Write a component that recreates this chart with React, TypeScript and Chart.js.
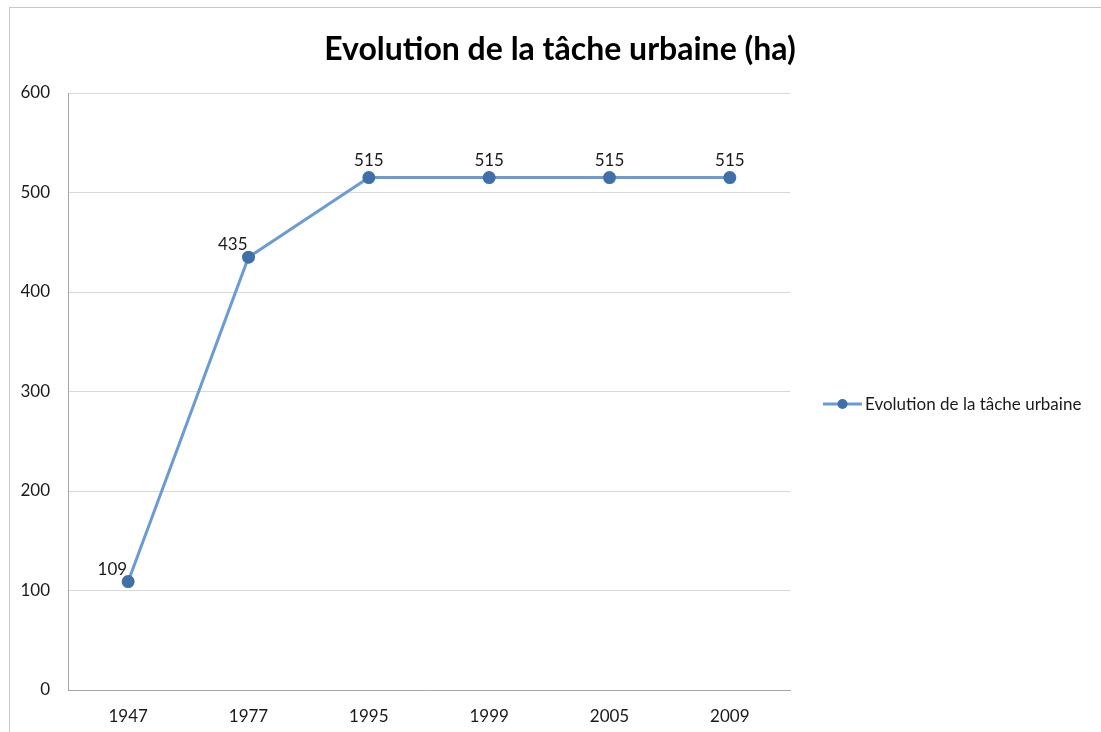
import React, { useEffect, useRef } from "react";
import { Chart, registerables } from "chart.js";

Chart.register(...registerables);

const TITLE = "Evolution de la tâche urbaine (ha)";
const SERIES_NAME = "Evolution de la tâche urbaine";
const years = ["1947", "1977", "1995", "1999", "2005", "2009"];
const values = [109, 435, 515, 515, 515, 515];
const yTicks = [0, 100, 200, 300, 400, 500, 600];

const FONT = "Lato, 'Open Sans', sans-serif";
const LINE_COLOR = "#6a9bd2";
const POINT_COLOR = "#3f70aa";

const overlayPlugin = {
  id: "overlay",
  afterDatasetsDraw(chart: any) {
    const ctx = chart.ctx;
    const meta = chart.getDatasetMeta(0);
    const ds = chart.data.datasets[0].data as number[];
    ctx.save();
    // data labels
    ctx.fillStyle = "#1a1a1a";
    ctx.font = `17px ${FONT}`;
    ctx.textBaseline = "alphabetic";
    meta.data.forEach((pt: any, i: number) => {
      const v = ds[i];
      const next = ds[i + 1];
      if (next !== undefined && next > v) {
        ctx.textAlign = "right";
        ctx.fillText(String(v), pt.x - 1, pt.y - 7);
      } else {
        ctx.textAlign = "center";
        ctx.fillText(String(v), pt.x, pt.y - 12);
      }
    });
    // title
    ctx.font = `bold 32px ${FONT}`;
    ctx.textAlign = "center";
    ctx.textBaseline = "middle";
    ctx.fillStyle = "#000";
    ctx.fillText(TITLE, 560, 50);
    // legend
    const ly = 404;
    ctx.strokeStyle = LINE_COLOR;
    ctx.lineWidth = 3;
    ctx.beginPath();
    ctx.moveTo(823, ly);
    ctx.lineTo(862, ly);
    ctx.stroke();
    ctx.fillStyle = POINT_COLOR;
    ctx.beginPath();
    ctx.arc(842.5, ly, 5, 0, Math.PI * 2);
    ctx.fill();
    ctx.fillStyle = "#1a1a1a";
    ctx.font = `17px ${FONT}`;
    ctx.textAlign = "left";
    ctx.textBaseline = "middle";
    ctx.fillText(SERIES_NAME, 865, ly + 1);
    ctx.restore();
  },
};

export default function App() {
  const ref = useRef<HTMLCanvasElement>(null);
  useEffect(() => {
    document.body.style.margin = "0";
    const chart = new Chart(ref.current!, {
      type: "line",
      data: {
        labels: years,
        datasets: [
          {
            label: SERIES_NAME,
            data: values,
            borderColor: LINE_COLOR,
            backgroundColor: POINT_COLOR,
            pointBackgroundColor: POINT_COLOR,
            pointBorderColor: POINT_COLOR,
            borderWidth: 3,
            pointRadius: 5,
            tension: 0,
          },
        ],
      },
      options: {
        responsive: false,
        animation: false,
        layout: { padding: { left: 0, top: 93, right: 311, bottom: 0 } },
        plugins: {
          legend: { display: false },
          title: { display: false },
          tooltip: { enabled: false },
        },
        scales: {
          x: {
            offset: true,
            grid: { display: false, drawTicks: false },
            border: { color: "#a6a6a6", width: 1 },
            ticks: { color: "#1a1a1a", font: { family: FONT, size: 17 }, padding: 16 },
            afterFit: (s: any) => {
              s.height = 42;
            },
          },
          y: {
            min: 0,
            max: 600,
            afterBuildTicks: (s: any) => {
              s.ticks = yTicks.map((v) => ({ value: v }));
            },
            grid: { color: "#d9d9d9", drawTicks: false },
            border: { color: "#a6a6a6", width: 1 },
            ticks: { color: "#1a1a1a", font: { family: FONT, size: 17 }, padding: 18 },
            afterFit: (s: any) => {
              s.width = 68;
            },
          },
        },
      },
      plugins: [overlayPlugin],
    });
    return () => chart.destroy();
  }, []);
  return (
    <div style={{ position: "relative", width: 1101, height: 732, overflow: "hidden" }}>
      <div
        style={{
          position: "absolute",
          left: 9,
          top: 7,
          width: 1200,
          height: 800,
          borderLeft: "1px solid #c8c8c8",
          borderTop: "1px solid #c8c8c8",
          boxSizing: "border-box",
        }}
      />
      <canvas ref={ref} width={1101} height={732} style={{ position: "absolute", left: 0, top: 0 }} />
    </div>
  );
}
